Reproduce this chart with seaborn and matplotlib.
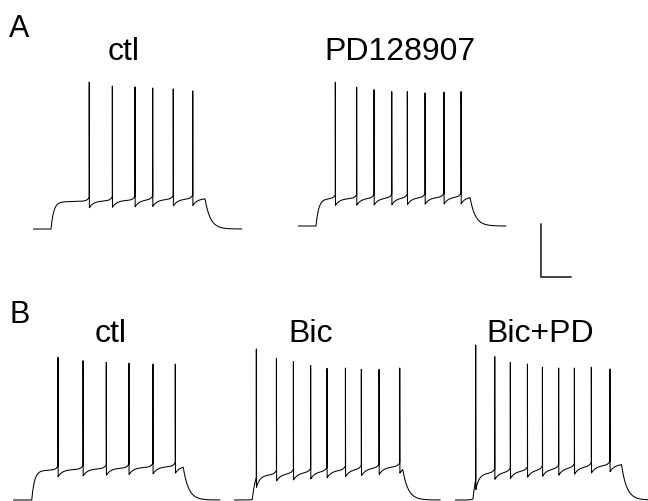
import numpy as np
import pandas as pd
import matplotlib
matplotlib.use("Agg")
import matplotlib.pyplot as plt
import seaborn as sns

# ---------------- data (ms, mV) ----------------
labels = ["ctl", "PD128907", "ctl", "Bic", "Bic+PD"]
panels = ["A", "B"]
v_rest = -70.0
step_on = [120, 120, 125, 122, 120]
step_off = [1147, 1147, 1135, 1125, 1110]
trace_end = [1393, 1387, 1380, 1375, 1290]
plateau_start = [-49.6, -49.6, -47.9, -51.7, -50.4]
plateau_end = [-47.0, -48.0, -44.5, -44.5, -43.0]
spike_times = [
    [375, 529, 680, 798, 935, 1065],
    [249, 391, 507, 625, 729, 847, 973, 1087],
    [300, 467, 622, 773, 933, 1082],
    [149, 283, 396, 511, 620, 743, 849, 967, 1105],
    [138, 265, 369, 483, 583, 691, 796, 909, 1033],
]
spike_peaks = [
    [40.9, 37.9, 37.2, 36.4, 35.7, 34.2],
    [38.5, 34.7, 32.9, 31.4, 31.4, 30.4, 30.9, 31.4],
    [37.7, 35.1, 33.9, 33.2, 32.6, 32.6],
    [44.0, 36.9, 34.4, 31.4, 29.4, 29.6, 28.6, 28.6, 29.6],
    [47.0, 38.2, 33.9, 32.6, 30.2, 29.6, 29.6, 30.2, 28.9],
]
scale_ms = [0, 0, 200]   # 200 ms
scale_mv = [40, 0, 0]    # 40 mV

# ---------------- layout (pixels) ----------------
W, H = 648, 502
px_per_ms = 0.15
px_per_mv = 1.325
t0_px = [33, 298, 13, 234, 455]
base_px = [230, 227, 501, 501, 501]
XLIM = (0, 1900)
YLIM = (-115, 55)
tau_rise, tau_decay = 18.0, 35.0


def make_trace(on, off, end, p0, p1, spikes, peaks):
    t = np.arange(0, end, 0.25)
    frac = np.clip((t - on) / (off - on), 0, 1)
    plat = p0 + (p1 - p0) * frac
    v = np.full_like(t, v_rest)
    ins = (t >= on) & (t < off)
    v[ins] = v_rest + (plat[ins] - v_rest) * (1 - np.exp(-(t[ins] - on) / tau_rise))
    aft = t >= off
    v[aft] = v_rest + (p1 - v_rest) * np.exp(-(t[aft] - off) / tau_decay)
    for ts in spikes:
        u = t - ts
        pre = (u < 0) & (u > -80)
        v[pre] += 3.0 * np.exp(u[pre] / 14)
        post = u >= 1.0
        v[post] -= 5.0 * np.exp(-(u[post] - 1.0) / 28)
    for ts, pk in zip(spikes, peaks):
        i = int(np.searchsorted(t, ts))
        v[i] = pk
        v[i + 1] = 0.55 * pk + 0.45 * v[i + 1]
    return t, v


sns.set_theme(style="white")
plt.rcParams["font.family"] = ["Liberation Sans", "DejaVu Sans"]

fig = plt.figure(figsize=(W / 100, H / 100), dpi=100)

axes = []
for k in range(len(labels)):
    left = t0_px[k]
    width = (XLIM[1] - XLIM[0]) * px_per_ms
    top = base_px[k] - (YLIM[1] - v_rest) * px_per_mv
    height = (YLIM[1] - YLIM[0]) * px_per_mv
    bottom = top + height
    ax = fig.add_axes([left / W, (H - bottom) / H, width / W, height / H])
    ax.patch.set_alpha(0)
    t, v = make_trace(step_on[k], step_off[k], trace_end[k],
                      plateau_start[k], plateau_end[k],
                      spike_times[k], spike_peaks[k])
    df = pd.DataFrame({"t": t, "v": v})
    sns.lineplot(data=df, x="t", y="v", ax=ax, color="black",
                 linewidth=0.75, estimator=None, sort=False)
    ax.set_xlim(*XLIM)
    ax.set_ylim(*YLIM)
    ax.axis("off")
    axes.append(ax)

# scale bar in PD128907 axes
ax = axes[1]
corner_x = (540.7 - t0_px[1]) / px_per_ms
corner_y = v_rest - (278.3 - base_px[1]) / px_per_mv
sb = pd.DataFrame({"t": np.array(scale_ms) + corner_x,
                   "v": np.array(scale_mv) + corner_y})
sns.lineplot(data=sb, x="t", y="v", ax=ax, color="#333333",
             linewidth=1.3, estimator=None, sort=False)
ax.set_xlim(*XLIM)
ax.set_ylim(*YLIM)


def ftext(x, y, s, size, ha="center"):
    fig.text(x / W, (H - y) / H, s, fontsize=size, ha=ha, va="baseline",
             color="black")


ftext(9, 37, panels[0], 22, ha="left")
ftext(10, 323, panels[1], 22, ha="left")
title_x = [124, 400, 111, 311, 540.5]
title_y = [60.5, 59.5, 341.7, 341.7, 342]
for k, s in enumerate(labels):
    ftext(title_x[k], title_y[k], s, 23)

fig.savefig("out.png", dpi=100)
